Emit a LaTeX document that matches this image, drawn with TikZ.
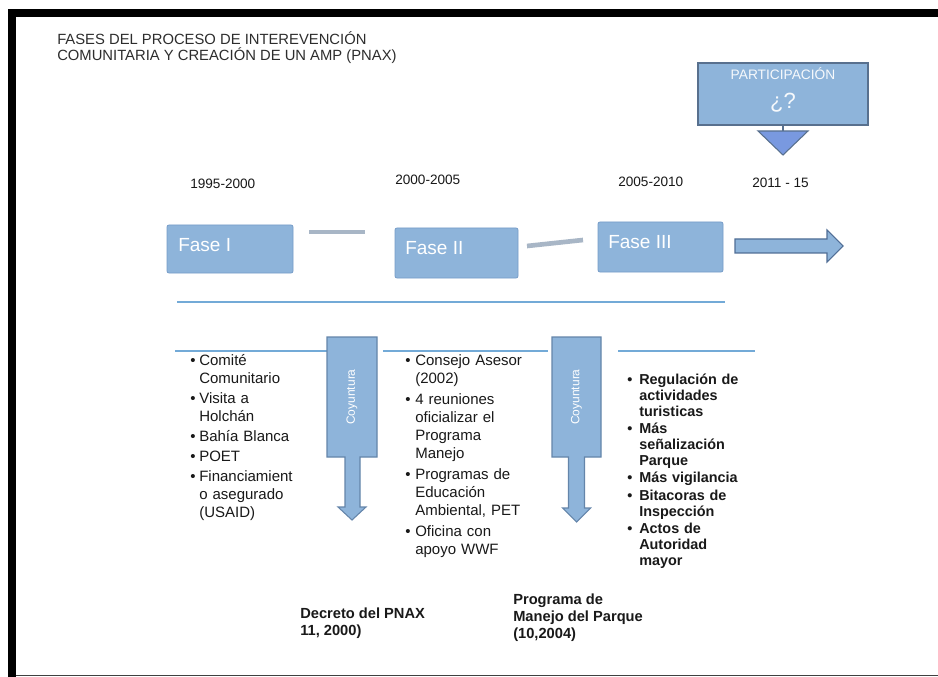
\documentclass[tikz,border=0pt]{standalone}
\usepackage{fontspec}
\setmainfont{Liberation Sans}
\definecolor{boxblue}{RGB}{142,180,218}
\definecolor{boxedge}{RGB}{118,156,200}
\definecolor{darkedge}{RGB}{88,112,142}
\definecolor{arrowedge}{RGB}{80,110,150}
\definecolor{lineblue}{RGB}{115,170,215}
\definecolor{conngray}{RGB}{168,182,198}
\definecolor{txt}{RGB}{25,25,25}
\definecolor{titletxt}{RGB}{45,45,45}
\newlength\bind
\newlength\isep
\newcommand\bitem[1]{\hangindent=\bind\hangafter=1\noindent\makebox[\bind][l]{\textbullet}#1\par\vspace{\isep}}
\tikzset{
  fasebox/.style={draw=boxedge, fill=boxblue, line width=0.6pt, rounded corners=1.5pt, inner sep=0},
  fasetext/.style={text=white, font=\fontsize{14.25pt}{16pt}\selectfont, inner sep=0, anchor=west},
  yeartext/.style={text=txt, font=\fontsize{10.2pt}{12pt}\selectfont, inner sep=0, anchor=west},
  titletext/.style={text=titletxt, font=\fontsize{11.1pt}{13pt}\selectfont, inner sep=0, anchor=west},
  conn/.style={draw=conngray, line width=3.5pt},
  sepline/.style={draw=lineblue, line width=1.5pt},
  arrowshape/.style={fill=boxblue, draw=arrowedge, line width=0.8pt},
  coytext/.style={text=white, font=\fontsize{9pt}{10pt}\selectfont, inner sep=0, rotate=90},
  listreg/.style={text=txt, font=\fontsize{11.25pt}{13.5pt}\selectfont, inner sep=0, anchor=north west, align=left},
  listbold/.style={text=txt, font=\fontsize{10.8pt}{11.9pt}\selectfont\bfseries, inner sep=0, anchor=north west, align=left},
  bottomtext/.style={text=txt, font=\fontsize{11pt}{12.6pt}\selectfont\bfseries, inner sep=0, anchor=north west, align=left},
}
\begin{document}
\begin{tikzpicture}[x=0.75pt,y=-0.75pt]
\useasboundingbox (0,0) rectangle (938,677);
\fill[white] (0,0) rectangle (938,677);
% frame
\fill[black] (8,9) rectangle (938,17);
\fill[black] (8,9) rectangle (16,677);
\draw[black!75, line width=0.9pt] (16,675.5) -- (938,675.5);

% title
\node[titletext] (t1) at (57,38) {FASES DEL PROCESO DE INTEREVENCIÓN};
\node[titletext] (t2) at (57,56) {COMUNITARIA Y CREACIÓN DE UN AMP (PNAX)};

% participation
\node[draw=darkedge, fill=boxblue, line width=1.1pt, minimum width=127.5pt, minimum height=46.5pt, inner sep=0] (part) at (783,94) {};
\node[text=white!92!boxblue, font=\fontsize{10.3pt}{11pt}\selectfont, inner sep=0] (partt) at (783,74) {PARTICIPACIÓN};
\node[text=white!92!boxblue, font=\fontsize{16.5pt}{18pt}\selectfont, inner sep=0] (partq) at (783,103) {¿?};
\coordinate (tri) at (783,131);
\draw[darkedge, line width=1.3pt] (part.south) -- (tri);
\filldraw[fill=boxblue!85!blue, draw=darkedge, line width=0.8pt] (758,131) -- (808,131) -- (783,155) -- cycle;

% years
\node[yeartext] (y1) at (190,184) {1995-2000};
\node[yeartext] (y2) at (395,180) {2000-2005};
\node[yeartext] (y3) at (618,182) {2005-2010};
\node[yeartext] (y4) at (752,183) {2011 - 15};

% phases
\node[fasebox, minimum width=94.5pt, minimum height=36pt] (f1) at (230,249) {};
\node[fasebox, minimum width=92.25pt, minimum height=37.5pt] (f2) at (456.5,253) {};
\node[fasebox, minimum width=93.75pt, minimum height=37.5pt] (f3) at (660.5,247) {};
\node[fasetext] (f1t) at (178,245) {Fase I};
\node[fasetext] (f2t) at (405,248) {Fase II};
\node[fasetext] (f3t) at (608,242) {Fase III};

\coordinate (c1a) at (309,232);
\coordinate (c1b) at (365,232);
\coordinate (c2a) at (527,246);
\coordinate (c2b) at (583,240);
\draw[conn] (c1a) -- (c1b);
\draw[conn] (c2a) -- (c2b);

% big arrow
\filldraw[arrowshape] (735,239) -- (827,239) -- (827,230) -- (843,246) -- (827,262) -- (827,253) -- (735,253) -- cycle;

% separator lines
\draw[sepline] (177,302) -- (725,302);
\draw[sepline] (175,351) -- (327,351);
\draw[sepline] (383,351) -- (548,351);
\draw[sepline] (618,351) -- (755,351);

% coyuntura arrows
\filldraw[arrowshape, draw=boxedge!85!black] (327,337) -- (377,337) -- (377,457) -- (360,457) -- (360,507) -- (366,507) -- (352,520) -- (338,507) -- (345,507) -- (345,457) -- (327,457) -- cycle;
\node[coytext] (coy1) at (352,397) {Coyuntura};
\filldraw[arrowshape, draw=boxedge!85!black] (552,337) -- (601,337) -- (601,457) -- (584.5,457) -- (584.5,508) -- (590.5,508) -- (576.5,522) -- (562.5,508) -- (568.5,508) -- (568.5,457) -- (552,457) -- cycle;
\node[coytext] (coy2) at (576.5,397) {Coyuntura};

% lists
\node[listreg, text width=101pt] (colA) at (190,354) {\setlength\bind{6.75pt}\setlength\isep{1.5pt}%
\bitem{Comité\newline Comunitario}%
\bitem{Visita a\newline Holchán}%
\bitem{Bahía Blanca}%
\bitem{POET}%
\bitem{Financiamient\newline o asegurado\newline (USAID)}};

\node[listreg, text width=105pt] (colB) at (405,354) {\setlength\bind{7.5pt}\setlength\isep{2.25pt}%
\bitem{Consejo Asesor\newline (2002)}%
\bitem{4 reuniones\newline oficializar el\newline Programa\newline Manejo}%
\bitem{Programas de\newline Educación\newline Ambiental, PET}%
\bitem{Oficina con\newline apoyo WWF}};

\node[listbold, text width=100pt] (colC) at (627,374) {\setlength\bind{9pt}\setlength\isep{1.1pt}%
\bitem{Regulación de\newline actividades\newline turisticas}%
\bitem{Más\newline señalización\newline Parque}%
\bitem{Más vigilancia}%
\bitem{Bitacoras de\newline Inspección}%
\bitem{Actos de\newline Autoridad\newline mayor}};

% bottom labels
\node[bottomtext] (dec) at (300,608) {Decreto del PNAX\\11, 2000)};
\node[bottomtext] (prog) at (513,594) {Programa de\\Manejo del Parque\\(10,2004)};
\end{tikzpicture}
\end{document}
